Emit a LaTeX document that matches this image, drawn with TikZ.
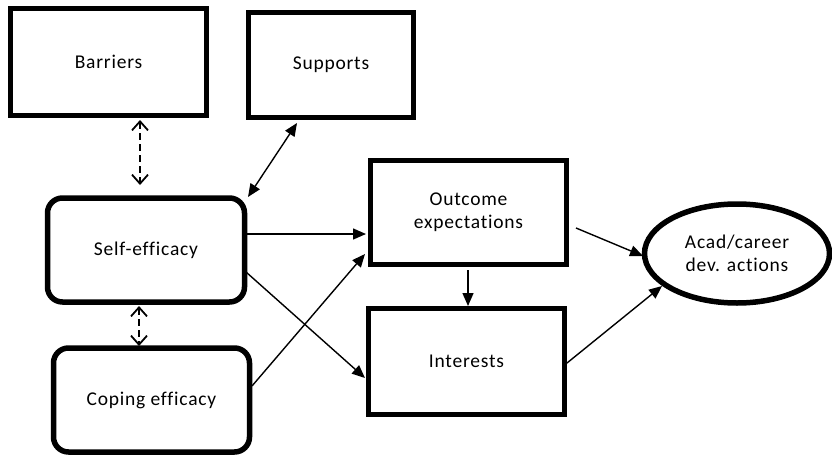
\documentclass[tikz,border=0pt]{standalone}
\usepackage{fontspec}
\setmainfont{Carlito}
\newfontfamily\labelfont[LetterSpace=4,Ligatures=NoCommon]{Carlito}
\usetikzlibrary{arrows.meta,shapes.geometric}
\begin{document}
\begin{tikzpicture}[x=1pt,y=-1pt,
  lbl/.style={font=\labelfont\fontsize{19.5}{23}\selectfont,align=center},
  box/.style={draw,line width=5.5pt,minimum width=#1,inner sep=0pt,lbl},
  rbox/.style={box=#1,rounded corners=15pt},
  tip/.tip={Triangle[length=13pt,width=11pt]},
  barb/.tip={Straight Barb[length=9pt,width=16pt,line width=1.8pt]},
  link/.style={line width=1.4pt,-tip},
  both/.style={line width=1.4pt,tip-tip},
  dlink/.style={line width=1.6pt,dash pattern=on 7pt off 4pt,barb-barb}]
\useasboundingbox (0,0) rectangle (832,455);
% boxes
\node[box=196pt,minimum height=107pt] (bar) at (108.5,62) {Barriers};
\node[box=165pt,minimum height=105pt] (sup) at (331,65) {Supports};
\node[rbox=197pt,minimum height=104pt] (self) at (146,250) {Self-efficacy};
\node[rbox=196pt,minimum height=104pt] (cop) at (151.5,400) {Coping efficacy};
\node[box=196pt,minimum height=104pt] (out) at (468.5,212.5) {Outcome\\expectations};
\node[box=196pt,minimum height=106pt] (int) at (466.5,361.5) {Interests};
\node[draw,ellipse,line width=5.5pt,minimum width=185pt,minimum height=99pt,inner sep=0pt,lbl] (act) at (737,253.5) {Acad/career\\dev. actions};
% connectors
\coordinate (b1) at (140,120); \coordinate (b2) at (140,185);
\draw[dlink] (b1) -- (b2);
\coordinate (s1) at (139,306); \coordinate (s2) at (139,346);
\draw[dlink] (s1) -- (s2);
\coordinate (p1) at (297,123); \coordinate (p2) at (248,197);
\draw[both] (p1) -- (p2);
\coordinate (e1) at (246,234); \coordinate (e2) at (366,234);
\draw[link] (e1) -- (e2);
\coordinate (f1) at (246,272); \coordinate (f2) at (365,378);
\draw[link] (f1) -- (f2);
\coordinate (c1) at (252,386); \coordinate (c2) at (365,254);
\draw[link] (c1) -- (c2);
\coordinate (o1) at (468,270); \coordinate (o2) at (468,306);
\draw[link] (o1) -- (o2);
\coordinate (o3) at (576,228); \coordinate (o4) at (643,256);
\draw[link] (o3) -- (o4);
\coordinate (i1) at (567,363); \coordinate (i2) at (662,286);
\draw[link] (i1) -- (i2);
\end{tikzpicture}
\end{document}
